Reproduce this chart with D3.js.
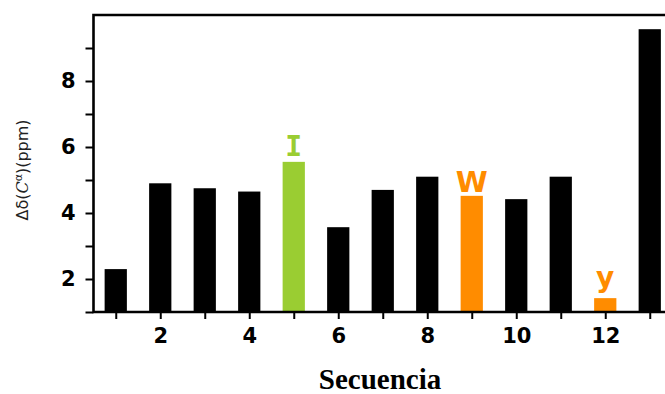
<!DOCTYPE html>
<html>
<head>
<meta charset="utf-8">
<script src="https://cdn.jsdelivr.net/npm/d3@7"></script>
<style>
  html, body { margin: 0; padding: 0; background: #fff; }
  svg { display: block; }
</style>
</head>
<body>
<svg id="chart" width="665" height="394"></svg>
<script>
// Sequence positions and chemical shift differences (ppm)
const positions = [1, 2, 3, 4, 5, 6, 7, 8, 9, 10, 11, 12, 13];
const shifts = [2.30, 4.90, 4.75, 4.65, 5.55, 3.57, 4.70, 5.10, 4.52, 4.42, 5.10, 1.42, 9.57];
// Residue marks shown above highlighted positions
const residueLabels = ["", "", "", "", "I", "", "", "", "W", "", "", "y", ""];
const xTickValues = [1, 2, 3, 4, 5, 6, 7, 8, 9, 10, 11, 12, 13];
const xTickLabels = ["", "2", "", "4", "", "6", "", "8", "", "10", "", "12", ""];
const yTickValues = [1, 2, 3, 4, 5, 6, 7, 8, 9];
const yTickLabels = ["", "2", "", "4", "", "6", "", "8", ""];

// Colours for highlighted residues
const residueColor = { I: "#9ACD32", W: "#FF8C00", y: "#FF8C00" };

const svg = d3.select("#chart");
const plotLeft = 93.5, plotRight = 672, plotTop = 15, plotBottom = 312;

const x = d3.scaleLinear().domain([0.5, 13.5]).range([plotLeft, plotRight]);
const y = d3.scaleLinear().domain([1, 10]).range([plotBottom, plotTop]);

// Bars
const barHalf = 0.25;
svg.append("g").selectAll("rect")
  .data(positions)
  .join("rect")
  .attr("x", (d) => x(d - barHalf))
  .attr("width", (d) => x(d + barHalf) - x(d - barHalf))
  .attr("y", (d, i) => y(shifts[i]))
  .attr("height", (d, i) => y(1) - y(shifts[i]))
  .attr("fill", (d, i) => residueColor[residueLabels[i]] || "#000");

// Residue letters
const labelled = positions.map((p, i) => i).filter((i) => residueLabels[i]);
svg.append("g").selectAll("text")
  .data(labelled)
  .join("text")
  .attr("x", (i) => x(positions[i]))
  .attr("y", (i) => {
    const lab = residueLabels[i];
    return y(shifts[i]) - (lab === "y" ? 11 : lab === "W" ? 4 : 6);
  })
  .attr("text-anchor", "middle")
  .attr("font-family", (i) => residueLabels[i] === "I" ? "DejaVu Sans Mono" : "DejaVu Sans")
  .attr("font-weight", "bold")
  .attr("font-size", (i) => residueLabels[i] === "W" ? 29 : 28)
  .attr("fill", (i) => residueColor[residueLabels[i]])
  .text((i) => residueLabels[i]);

// X axis
const xAxis = d3.axisBottom(x)
  .tickValues(xTickValues)
  .tickFormat((d, i) => xTickLabels[i])
  .tickSize(7)
  .tickPadding(9)
  .tickSizeOuter(0);
const gx = svg.append("g").attr("transform", `translate(0,${plotBottom})`).call(xAxis);
gx.select(".domain").remove();
gx.selectAll(".tick line").attr("stroke", "#000").attr("stroke-width", 2);
gx.selectAll(".tick text")
  .attr("font-family", "DejaVu Sans, sans-serif")
  .attr("font-weight", "bold")
  .attr("font-size", 21)
  .attr("fill", "#000");

// Y axis
const yAxis = d3.axisLeft(y)
  .tickValues(yTickValues)
  .tickFormat((d, i) => yTickLabels[i])
  .tickSize(8)
  .tickPadding(10)
  .tickSizeOuter(0);
const gy = svg.append("g").attr("transform", `translate(${plotLeft},0)`).call(yAxis);
gy.select(".domain").remove();
gy.selectAll(".tick line").attr("stroke", "#000").attr("stroke-width", 2);
gy.selectAll(".tick text")
  .attr("font-family", "DejaVu Sans, sans-serif")
  .attr("font-weight", "bold")
  .attr("font-size", 21)
  .attr("fill", "#000");

// Frame: left axis, bottom axis and top edge
svg.append("path")
  .attr("d", `M${plotRight},${plotTop}H${plotLeft}V${plotBottom}H${plotRight}`)
  .attr("fill", "none")
  .attr("stroke", "#000")
  .attr("stroke-width", 2.6);

// Axis titles
svg.append("text")
  .attr("x", 380)
  .attr("y", 389)
  .attr("text-anchor", "middle")
  .attr("font-family", "Liberation Serif, Times New Roman, serif")
  .attr("font-weight", "bold")
  .attr("font-size", 29)
  .attr("fill", "#000")
  .text("Secuencia");

const yt = svg.append("text")
  .attr("transform", "translate(28,170) rotate(-90)")
  .attr("text-anchor", "middle")
  .attr("font-family", "DejaVu Sans, sans-serif")
  .attr("font-size", 16)
  .attr("fill", "#222");
yt.append("tspan").text("Δδ(");
yt.append("tspan").attr("font-style", "italic").attr("font-family", "DejaVu Serif, serif").text("C");
yt.append("tspan").attr("font-size", 11).attr("dy", -6).text("α");
yt.append("tspan").attr("dy", 6).text(")(ppm)");
</script>
</body>
</html>
